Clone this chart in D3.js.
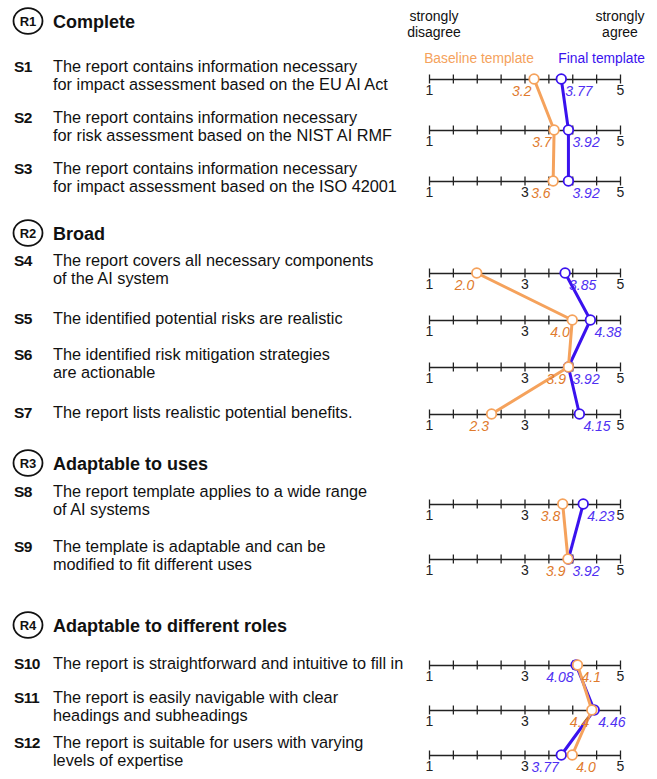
<!DOCTYPE html>
<html>
<head>
<meta charset="utf-8">
<script src="https://cdn.jsdelivr.net/npm/d3@7"></script>
<style>
  html, body { margin: 0; padding: 0; background: #fff; }
  svg { display: block; font-family: "Liberation Sans", Arial, Helvetica, sans-serif; }
</style>
</head>
<body>
<svg id="chart" width="657" height="779"></svg>
<script>
// ---------------- data ----------------
const sectionIds = ["R1", "R2", "R3", "R4"];
const sectionTitles = ["Complete", "Broad", "Adaptable to uses", "Adaptable to different roles"];

const statementIds = ["S1","S2","S3","S4","S5","S6","S7","S8","S9","S10","S11","S12"];
const statementSection = [0,0,0,1,1,1,1,2,2,3,3,3];
const statementText = [
  ["The report contains information necessary", "for impact assessment based on the EU AI Act"],
  ["The report contains information necessary", "for risk assessment based on the NIST AI RMF"],
  ["The report contains information necessary", "for impact assessment based on the ISO 42001"],
  ["The report covers all necessary components", "of the AI system"],
  ["The identified potential risks are realistic"],
  ["The identified risk mitigation strategies", "are actionable"],
  ["The report lists realistic potential benefits."],
  ["The report template applies to a wide range", "of AI systems"],
  ["The template is adaptable and can be", "modified to fit different uses"],
  ["The report is straightforward and intuitive to fill in"],
  ["The report is easily navigable with clear", "headings and subheadings"],
  ["The report is suitable for users with varying", "levels of expertise"]
];

const seriesNames = ["Baseline template", "Final template"];
const baselineValues = [3.2, 3.62, 3.6, 2.0, 4.0, 3.92, 2.31, 3.8, 3.91, 4.11, 4.41, 4.0];
const baselineLabels = ["3.2","3.7","3.6","2.0","4.0","3.9","2.3","3.8","3.9","4.1","4.4","4.0"];
const finalValues = [3.77, 3.92, 3.92, 3.85, 4.38, 3.92, 4.15, 4.23, 3.92, 4.08, 4.46, 3.77];
const finalLabels = ["3.77","3.92","3.92","3.85","4.38","3.92","4.15","4.23","3.92","4.08","4.46","3.77"];

const scaleDomain = [1, 5];
const tickValues = [1, 1.5, 2, 2.5, 3, 3.5, 4, 4.5, 5];
const rowTickLabels = [[1,5],[1,5],[1,3,5],[1,3,5],[1,3],[1,3,5],[1,3,5],[1,3,5],[1,3,5],[1,3,5],[1,3],[1,3,5]];
const scaleEndLabels = [["strongly", "disagree"], ["strongly", "agree"]];

// ---------------- layout ----------------
const layout = {
  rowY: [79, 130, 181, 273, 320, 367, 414, 504, 559, 665, 710, 755],
  headerY: [21, 233, 463, 625],
  axisX: [429, 620]
};
const colors = {
  baseLine: "#F5A25C", baseText: "#E07A2C",
  finalLine: "#3A12EE", finalText: "#4F30F2",
  ink: "#111", axis: "#222"
};

const svg = d3.select("#chart");
const x = d3.scaleLinear().domain(scaleDomain).range(layout.axisX);

// header: scale ends
const endG = svg.append("g").attr("font-size", 14).attr("fill", colors.ink);
[434, 620].forEach((cx, k) => {
  endG.append("text").attr("y", 21).attr("text-anchor", "middle")
    .selectAll("tspan").data(scaleEndLabels[k]).join("tspan")
    .attr("x", cx).attr("dy", (d, i) => i ? 16 : 0).text(d => d);
});

// legend
svg.append("text").attr("x", 479).attr("y", 63).attr("text-anchor", "middle")
  .attr("font-size", 13.8).attr("fill", colors.baseLine).text(seriesNames[0]);
svg.append("text").attr("x", 645).attr("y", 63).attr("text-anchor", "end")
  .attr("font-size", 13.8).attr("fill", colors.finalLine).text(seriesNames[1]);

// section headers
sectionIds.forEach((id, i) => {
  const g = svg.append("g").attr("transform", `translate(0,${layout.headerY[i]})`);
  g.append("ellipse").attr("cx", 28).attr("cy", 0).attr("rx", 14.5).attr("ry", 12.8)
    .attr("fill", "none").attr("stroke", colors.ink).attr("stroke-width", 1.8);
  g.append("text").attr("x", 28).attr("y", 4.8).attr("text-anchor", "middle")
    .attr("font-size", 13).attr("font-weight", "bold").attr("fill", colors.ink).text(id);
  g.append("text").attr("x", 53).attr("y", 6.5).attr("font-size", 18)
    .attr("font-weight", "bold").attr("fill", colors.ink).text(sectionTitles[i]);
});

// statements
statementIds.forEach((id, i) => {
  const y = layout.rowY[i];
  const lines = statementText[i];
  const firstBase = lines.length === 1 ? y + 4 : y - 7.5;
  svg.append("text").attr("x", 14).attr("y", firstBase).attr("font-size", 15.5)
    .attr("font-weight", "bold").attr("letter-spacing", -0.6).attr("fill", colors.ink).text(id);
  svg.append("text").attr("y", firstBase).attr("font-size", 16.3).attr("fill", colors.ink)
    .selectAll("tspan").data(lines).join("tspan")
    .attr("x", 53).attr("dy", (d, k) => k ? 18.3 : 0).text(d => d);

  // axis
  const axis = d3.axisBottom(x).tickValues(tickValues).tickSize(0).tickFormat("");
  const ag = svg.append("g").attr("transform", `translate(0,${y})`).call(axis);
  ag.select(".domain").attr("stroke", colors.axis).attr("stroke-width", 1.5);
  ag.selectAll(".tick line").attr("y1", -4.5).attr("y2", 4.5)
    .attr("stroke", colors.axis).attr("stroke-width", 1.3);
  ag.selectAll(".tick").filter(d => rowTickLabels[i].includes(d)).select("text")
    .text(d => d3.format("d")(d)).attr("y", 16).attr("dy", 0)
    .attr("font-size", 14).attr("fill", colors.axis)
    .attr("font-family", "Liberation Sans, Arial, sans-serif");
});

// series lines
const series = [
  { vals: finalValues, labels: finalLabels, line: colors.finalLine, text: colors.finalText, other: baselineValues, isBase: false },
  { vals: baselineValues, labels: baselineLabels, line: colors.baseLine, text: colors.baseText, other: finalValues, isBase: true }
];
const lineGen = d3.line().x(d => x(d.v)).y(d => layout.rowY[d.i]);
const goesLeft = (s, d, i) => s.isBase ? d <= s.other[i] : d < s.other[i];

series.forEach(s => {
  const g = svg.append("g");
  sectionIds.forEach((sid, si) => {
    const pts = statementIds.map((_, i) => ({ i, v: s.vals[i] })).filter(d => statementSection[d.i] === si);
    g.append("path").attr("d", lineGen(pts)).attr("fill", "none")
      .attr("stroke", s.line).attr("stroke-width", 3).attr("stroke-linejoin", "round");
  });
  g.selectAll("circle").data(s.vals).join("circle")
    .attr("cx", d => x(d)).attr("cy", (d, i) => layout.rowY[i]).attr("r", 4.8)
    .attr("fill", "#fff").attr("stroke", s.line).attr("stroke-width", 1.8);
  g.selectAll("text.val").data(s.vals).join("text").attr("class", "val")
    .attr("x", (d, i) => goesLeft(s, d, i) ? x(d) - 2.5 : x(d) + 4)
    .attr("y", (d, i) => layout.rowY[i] + 17)
    .attr("text-anchor", (d, i) => goesLeft(s, d, i) ? "end" : "start")
    .attr("font-size", 14).attr("font-style", "italic").attr("fill", s.text)
    .text((d, i) => s.labels[i]);
});
</script>
</body>
</html>
